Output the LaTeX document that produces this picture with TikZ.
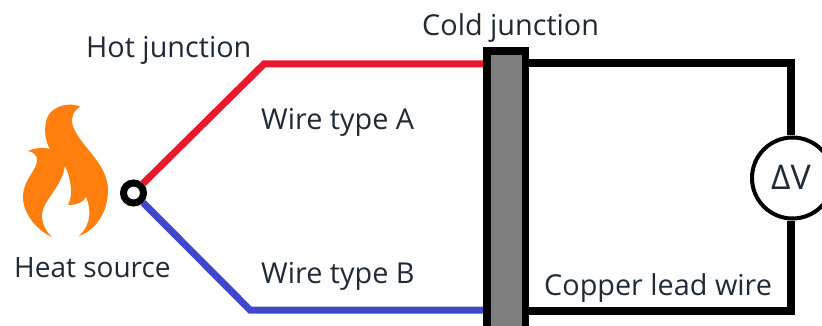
\documentclass[tikz,border=0pt]{standalone}
\usepackage{fontspec}
\setmainfont{Open Sans}
\definecolor{ink}{HTML}{1F2A36}
\definecolor{redw}{HTML}{E8192C}
\definecolor{bluew}{HTML}{3F48CC}
\definecolor{flamec}{HTML}{FF7F0E}
\definecolor{corec}{HTML}{7F7F7F}
\newcommand{\LabelF}{\fontsize{28.8}{34}\selectfont}
\tikzset{
  lbl/.style={anchor=west, font=\LabelF, text=ink, inner sep=0pt},
  wirered/.style={draw=redw, line width=7pt},
  wireblue/.style={draw=bluew, line width=7pt},
  copper/.style={draw=black, line width=8pt, line join=miter},
}

\begin{document}
\begin{tikzpicture}[x=1pt,y=-1pt]
\useasboundingbox (0,0) rectangle (822,326);
\clip (0,0) rectangle (822,326);
% flame
\fill[flamec] (80,106.5) .. controls (72,103) and (58,104) .. (50,113)
  .. controls (44,120) and (43,138) .. (50,149)
  .. controls (42,147) and (34,148) .. (28,151)
  .. controls (34,152) and (38,156) .. (37,162)
  .. controls (35,172) and (24,180) .. (23,195)
  .. controls (22,212) and (36,230) .. (52,237)
  .. controls (42,228) and (40,216) .. (44,207)
  .. controls (50,194) and (62,184) .. (65,166)
  .. controls (70,176) and (74,194) .. (68,205)
  .. controls (76,205) and (83,203) .. (86,197)
  .. controls (91,208) and (92,224) .. (79,236)
  .. controls (96,230) and (108,212) .. (108,190)
  .. controls (108,170) and (92,155) .. (83,143)
  .. controls (74,131) and (65,118) .. (80,106.5) -- cycle;
% blocks and junctions
\node (coldblock) [fill=black, minimum width=46pt, minimum height=279pt, inner sep=0pt] at (506,186.5) {};
\node (coldcore) [fill=corec, minimum width=31pt, minimum height=271pt, inner sep=0pt] at (506.5,190.5) {};
\node (hotjn) [circle, draw=black, fill=white, line width=7pt, minimum size=20pt, inner sep=0pt] at (133.5,193) {};
\node (meter) [circle, draw=black, fill=white, line width=4pt, minimum size=81pt, inner sep=0pt] at (792.5,178) {};
\coordinate (redbend) at (264,64);
\coordinate (bluebend) at (250,310);
\coordinate (toprt) at (791,63);
\coordinate (botrt) at (791,311);
% wires
\draw[wirered] (hotjn) -- (redbend) -- (coldblock.west |- redbend);
\draw[wireblue] (hotjn) -- (bluebend) -- (coldblock.west |- bluebend);
\draw[copper] (coldblock.east |- toprt) -- (toprt) -- (meter.north -| toprt);
\draw[copper] (meter.south -| toprt) -- (botrt) -- (coldblock.east |- botrt);
% labels
\node (hotlbl) [lbl] at (86,50) {Hot junction};
\node (coldlbl) [lbl] at (422,28) {Cold junction};
\node (alb) [lbl] at (261,122) {Wire type A};
\node (blb) [lbl] at (261,276) {Wire type B};
\node (heatlbl) [lbl, font=\fontsize{28}{34}\selectfont] at (14,268) {Heat source};
\node (cu) [lbl] at (544,288) {Copper lead wire};
\node (dv) [font=\fontsize{34}{38}\selectfont, text=ink, inner sep=0pt] at (791,177) {ΔV};
\end{tikzpicture}
\end{document}
